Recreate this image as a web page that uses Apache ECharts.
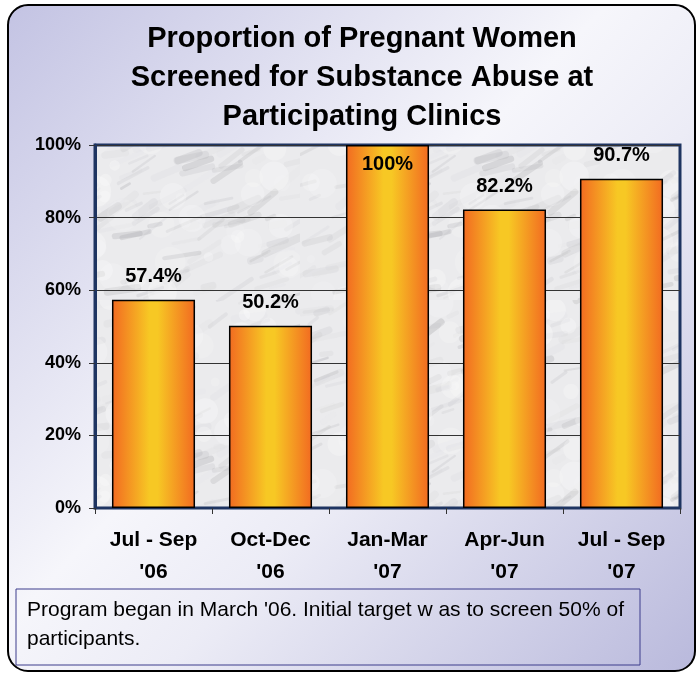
<!DOCTYPE html>
<html>
<head>
<meta charset="utf-8">
<script src="https://cdn.jsdelivr.net/npm/echarts@6/dist/echarts.min.js"></script>
<style>
  html, body { margin: 0; padding: 0; background: #fff; }
  #chart { width: 698px; height: 675px; }
</style>
</head>
<body>
<div id="chart"></div>
<script>
var categories = ["Jul - Sep\n'06", "Oct-Dec\n'06", "Jan-Mar\n'07", "Apr-Jun\n'07", "Jul - Sep\n'07"];
var values = [57.4, 50.2, 100, 82.2, 90.7];
var valueLabels = ['57.4%', '50.2%', '100%', '82.2%', '90.7%'];

var chart = echarts.init(document.getElementById('chart'), null, { renderer: 'canvas' });

// marble-ish texture for the plot area (decoration only, fixed seed)
function makeMarble() {
  var c = document.createElement('canvas');
  c.width = 300; c.height = 300;
  var ctx = c.getContext('2d');
  ctx.fillStyle = '#ebebed';
  ctx.fillRect(0, 0, 300, 300);
  var seed = 7;
  function rnd() { seed = (seed * 16807) % 2147483647; return seed / 2147483647; }
  ctx.lineCap = 'round';
  for (var i = 0; i < 220; i++) {
    var x = rnd() * 300, y = rnd() * 300;
    var len = 8 + rnd() * 30;
    var ang = -0.7 + rnd() * 0.6;
    var g = Math.floor(160 + rnd() * 70);
    ctx.strokeStyle = 'rgba(' + g + ',' + g + ',' + (g + 4) + ',' + (0.1 + rnd() * 0.2) + ')';
    ctx.lineWidth = 2 + rnd() * 6;
    ctx.beginPath();
    ctx.moveTo(x, y);
    ctx.lineTo(x + Math.cos(ang) * len, y + Math.sin(ang) * len);
    ctx.stroke();
  }
  for (var j = 0; j < 80; j++) {
    ctx.fillStyle = 'rgba(255,255,255,' + (0.1 + rnd() * 0.2) + ')';
    ctx.beginPath();
    ctx.arc(rnd() * 300, rnd() * 300, 4 + rnd() * 12, 0, Math.PI * 2);
    ctx.fill();
  }
  return c;
}

var barFill = new echarts.graphic.LinearGradient(0, 0, 1, 0, [
  { offset: 0, color: '#f26a21' },
  { offset: 0.45, color: '#f7c824' },
  { offset: 0.55, color: '#f7c824' },
  { offset: 1, color: '#f26a21' }
]);

var option = {
  animation: false,
  textStyle: { fontFamily: 'Liberation Sans, Arial, sans-serif' },
  graphic: [
    {
      type: 'rect',
      z: -10,
      shape: { x: 8, y: 5, width: 687, height: 666, r: 20 },
      style: {
        fill: new echarts.graphic.LinearGradient(0, 0, 1, 1, [
          { offset: 0, color: '#c3c3e3' },
          { offset: 0.45, color: '#f6f6fb' },
          { offset: 0.6, color: '#ececf6' },
          { offset: 1, color: '#b9b9dc' }
        ]),
        stroke: '#000',
        lineWidth: 2
      }
    },
    {
      type: 'rect',
      z: 5,
      shape: { x: 16, y: 589, width: 624, height: 76 },
      style: { fill: 'transparent', stroke: '#3c3c8c', lineWidth: 1 }
    },
    {
      type: 'text',
      z: 6,
      left: 27,
      top: 596,
      style: {
        text: "Program began in March '06. Initial target w as to screen 50% of\nparticipants.",
        font: '21px Liberation Sans, Arial, sans-serif',
        lineHeight: 29,
        fill: '#000'
      }
    }
  ],
  title: {
    text: 'Proportion of Pregnant Women\nScreened for Substance Abuse at\nParticipating Clinics',
    left: 357,
    textAlign: 'center',
    top: 14,
    textStyle: {
      fontSize: 29,
      fontWeight: 'bold',
      lineHeight: 39,
      color: '#000',
      fontFamily: 'Liberation Sans, Arial, sans-serif'
    }
  },
  grid: {
    left: 95,
    right: 18,
    top: 145,
    bottom: 167,
    show: true,
    borderColor: '#1e3461',
    borderWidth: 3,
    backgroundColor: { image: makeMarble(), repeat: 'repeat' }
  },
  xAxis: {
    type: 'category',
    data: categories,
    axisLine: { lineStyle: { color: '#1e3461', width: 2 } },
    axisTick: { show: true, alignWithLabel: false, length: 6, lineStyle: { color: '#333' } },
    axisLabel: {
      color: '#000',
      fontSize: 21,
      fontWeight: 'bold',
      lineHeight: 32,
      margin: 16,
      interval: 0
    }
  },
  yAxis: {
    type: 'value',
    min: 0,
    max: 100,
    interval: 20,
    axisLine: { show: true, lineStyle: { color: '#1e3461', width: 3 } },
    axisTick: { show: true, length: 6, lineStyle: { color: '#333' } },
    axisLabel: {
      color: '#000',
      fontSize: 18,
      fontWeight: 'bold',
      margin: 14,
      formatter: '{value}%'
    },
    splitLine: { lineStyle: { color: '#333', width: 1 } }
  },
  series: [{
    type: 'bar',
    barWidth: '71%',
    data: values.map(function (v) {
      return {
        value: v,
        label: {
          position: v >= 100 ? 'insideTop' : 'top',
          distance: v >= 100 ? 9 : 13
        }
      };
    }),
    itemStyle: {
      color: barFill,
      borderColor: '#000',
      borderWidth: 1.5
    },
    label: {
      show: true,
      color: '#000',
      fontSize: 20,
      fontWeight: 'bold',
      formatter: function (p) { return valueLabels[p.dataIndex]; }
    }
  }]
};

chart.setOption(option);
</script>
</body>
</html>
